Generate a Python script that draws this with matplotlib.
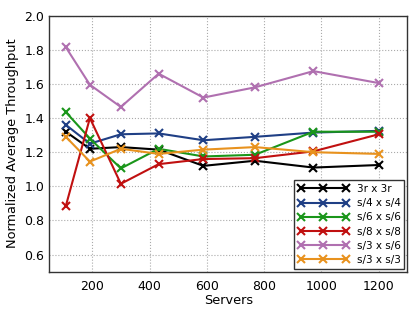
import matplotlib
matplotlib.use('Agg')
import matplotlib.pyplot as plt

plt.rcParams['font.family'] = ['DejaVu Sans']

servers = [108, 192, 300, 432, 588, 768, 972, 1200]

labels = ['3r x 3r', 's/4 x s/4', 's/6 x s/6', 's/8 x s/8', 's/3 x s/6', 's/3 x s/3']
colors = ['#000000', '#1f3f85', '#1a961a', '#c01010', '#b070b0', '#e8921e']

r3_r3 = [1.32, 1.22, 1.23, 1.215, 1.12, 1.15, 1.11, 1.125]
s4_s4 = [1.36, 1.25, 1.305, 1.31, 1.27, 1.29, 1.315, 1.325]
s6_s6 = [1.435, 1.28, 1.105, 1.22, 1.175, 1.185, 1.32, 1.32]
s8_s8 = [0.885, 1.40, 1.015, 1.13, 1.16, 1.165, 1.205, 1.305]
s3_s6 = [1.815, 1.595, 1.465, 1.66, 1.52, 1.58, 1.675, 1.605]
s3_s3 = [1.29, 1.145, 1.22, 1.19, 1.215, 1.23, 1.2, 1.19]

series = [r3_r3, s4_s4, s6_s6, s8_s8, s3_s6, s3_s3]

fig = plt.figure(figsize=(4.17, 3.13), dpi=100)
ax = fig.add_axes([0.118, 0.132, 0.859, 0.818])

for vals, lab, c in zip(series, labels, colors):
    ax.plot(servers, vals, color=c, marker='x', markersize=6, mew=1.5,
            linewidth=1.5, label=lab)

ax.set_xlim(50, 1300)
ax.set_ylim(0.5, 2.0)
ax.set_xticks([200, 400, 600, 800, 1000, 1200])
ax.set_yticks([0.6, 0.8, 1.0, 1.2, 1.4, 1.6, 1.8, 2.0])
ax.grid(True, linestyle=':', color='#aaaaaa', linewidth=0.8)
ax.tick_params(labelsize=9, length=0)
ax.tick_params(axis='x', pad=6)
ax.tick_params(axis='y', pad=3.5)
for s in ax.spines.values():
    s.set_linewidth(1.0)
    s.set_color('#333333')
ax.set_xlabel('Servers', fontsize=9.3, labelpad=1)
ax.set_ylabel('Normalized Average Throughput', fontsize=9.3, labelpad=4)

leg = ax.legend(loc='lower right', fontsize=7.5, numpoints=3, fancybox=False,
                framealpha=1, edgecolor='#333333', borderaxespad=0.3,
                handlelength=5.0, handletextpad=0.7, labelspacing=0.4,
                borderpad=0.35)
leg.get_frame().set_linewidth(1.0)

fig.savefig('out.png', dpi=100)
